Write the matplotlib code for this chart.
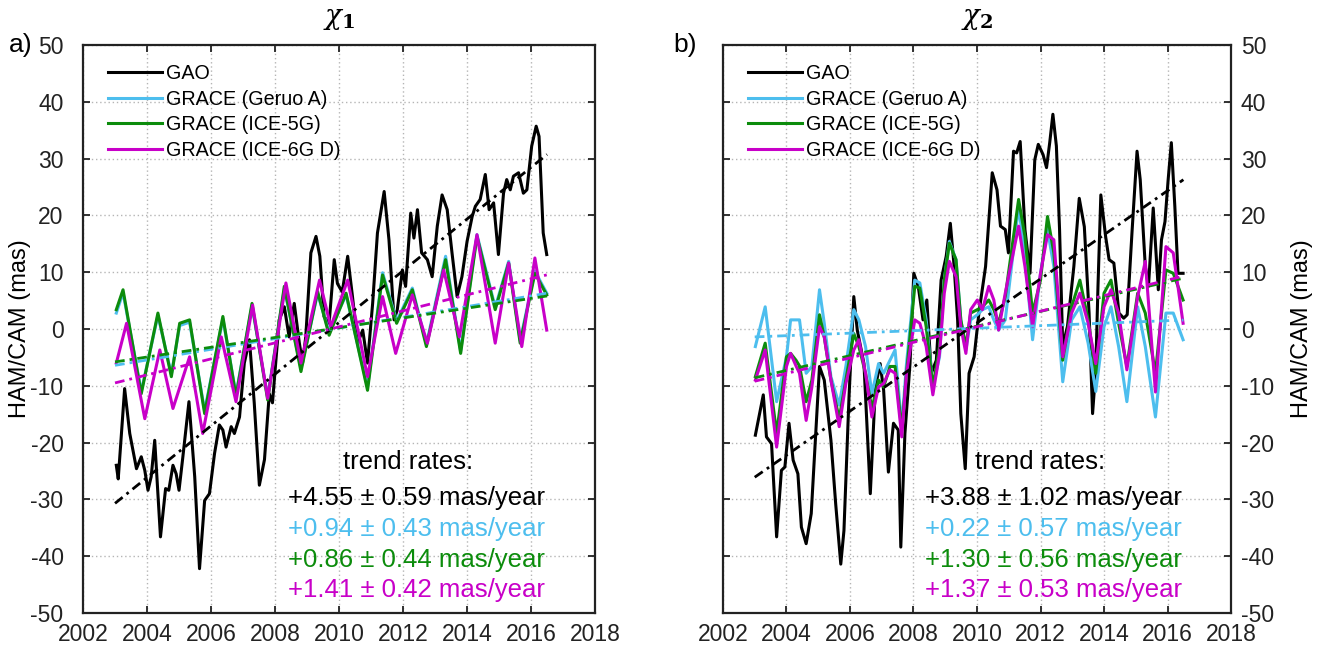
import numpy as np
import matplotlib
matplotlib.use("Agg")
import matplotlib.pyplot as plt

plt.rcParams['font.family'] = ['Liberation Sans', 'DejaVu Sans']
plt.rcParams['mathtext.fontset'] = 'dejavuserif'
plt.rcParams['axes.unicode_minus'] = False

# colours of the four series
C_GAO = '#000000'
C_GERUO = '#4dbeee'
C_ICE5 = '#0c8c0c'
C_ICE6 = '#c800c8'

labels = ['GAO', 'GRACE (Geruo A)', 'GRACE (ICE-5G)', 'GRACE (ICE-6G D)']

# ---------------- chi_1 ----------------
x1_gao_t = [2003.04, 2003.10, 2003.30, 2003.46, 2003.67, 2003.82, 2003.93, 2004.03, 2004.13, 2004.24,
            2004.42, 2004.58, 2004.68, 2004.81, 2004.91, 2005.00, 2005.12, 2005.31, 2005.49, 2005.64,
            2005.80, 2005.95, 2006.11, 2006.26, 2006.37, 2006.47, 2006.63, 2006.73, 2006.89, 2007.04,
            2007.20, 2007.35, 2007.51, 2007.67, 2007.82, 2007.92, 2008.13, 2008.29, 2008.44, 2008.60,
            2008.76, 2008.86, 2008.96, 2009.12, 2009.28, 2009.40, 2009.53, 2009.69, 2009.85, 2009.95,
            2010.10, 2010.27, 2010.42, 2010.58, 2010.74, 2010.89, 2011.05, 2011.20, 2011.41, 2011.56,
            2011.72, 2011.82, 2011.98, 2012.08, 2012.24, 2012.34, 2012.45, 2012.58, 2012.76, 2012.91,
            2013.07, 2013.22, 2013.38, 2013.53, 2013.69, 2013.84, 2014.00, 2014.16, 2014.26, 2014.41,
            2014.57, 2014.69, 2014.83, 2014.98, 2015.14, 2015.24, 2015.35, 2015.45, 2015.61, 2015.76,
            2015.87, 2016.02, 2016.16, 2016.25, 2016.38, 2016.49]
x1_gao_v = [-24.0, -26.4, -10.5, -18.4, -24.6, -22.5, -24.9, -28.4, -26.0, -19.6,
            -36.6, -28.1, -28.4, -24.0, -25.5, -28.4, -22.5, -12.8, -26.0, -42.2,
            -30.2, -29.0, -21.9, -16.9, -17.8, -20.8, -17.2, -18.4, -15.5, -6.0,
            -1.9, -13.0, -27.5, -23.0, -11.4, -13.0, 1.6, 3.9, -1.4, 4.5,
            -2.5, -6.0, -1.4, 13.4, 16.3, 12.8, 2.2, 1.0, 12.2, 8.0,
            6.5, 12.8, 5.7, -2.5, -0.2, -6.0, 4.5, 16.9, 24.2, 15.7,
            1.6, 3.4, 10.4, 7.5, 20.4, 16.0, 21.0, 13.4, 12.2, 9.2,
            18.1, 23.6, 21.0, 13.4, 5.7, 9.2, 15.4, 19.8, 21.6, 22.8,
            27.2, 21.0, 22.2, 13.1, 23.9, 26.3, 24.5, 26.9, 27.5, 23.9,
            24.5, 32.2, 35.7, 33.9, 16.9, 13.1]

x1_grace_t = [2003.04, 2003.25, 2003.82, 2004.34, 2004.76, 2005.02, 2005.33, 2005.80, 2006.37, 2006.78,
              2007.28, 2007.77, 2008.29, 2008.81, 2009.33, 2009.69, 2010.22, 2010.89, 2011.36, 2011.80,
              2012.29, 2012.73, 2013.33, 2013.80, 2014.31, 2014.88, 2015.30, 2015.66, 2016.12, 2016.49]
x1_geruo_v = [2.8, 6.4, -11.0, 2.4, -8.0, 0.6, 1.2, -14.4, 1.8, -11.5,
              4.1, -12.0, 7.1, -7.0, 6.2, -0.6, 6.0, -10.3, 9.9, 1.4,
              7.2, -2.7, 12.8, -3.9, 16.6, 3.8, 11.9, -2.1, 10.2, 6.3]
x1_ice5_v = [3.4, 6.9, -11.4, 2.8, -8.4, 1.0, 1.6, -14.9, 2.2, -11.9,
             4.5, -12.5, 7.5, -7.5, 6.6, -1.1, 6.3, -10.8, 9.5, 1.0,
             6.9, -3.1, 12.2, -4.3, 16.3, 3.4, 11.6, -2.5, 9.8, 6.0]
x1_ice6_t = [2003.04, 2003.36, 2003.93, 2004.40, 2004.81, 2005.33, 2005.74, 2006.32, 2006.78, 2007.30,
             2007.77, 2008.34, 2008.81, 2009.39, 2009.74, 2010.27, 2010.89, 2011.36, 2011.77, 2012.29,
             2012.76, 2013.27, 2013.76, 2014.31, 2014.88, 2015.30, 2015.71, 2016.12, 2016.49]
x1_ice6_v = [-6.0, 1.0, -15.8, -3.7, -14.0, -4.9, -18.4, -1.4, -12.8, 4.2,
             -12.2, 8.1, -6.0, 8.6, 0.4, 8.6, -8.4, 5.7, -4.3, 6.0,
             -2.5, 10.4, -1.4, 16.6, -2.5, 11.6, -3.1, 12.5, -0.2]

# trend rates (mas/year), their errors and the value of each trend line at its start
x1_rates = [4.55, 0.94, 0.86, 1.41]
x1_errs = [0.59, 0.43, 0.44, 0.42]
x1_trend_start = [-30.7, -6.4, -5.8, -9.5]

# ---------------- chi_2 ----------------
x2_gao_t = [2003.02, 2003.27, 2003.37, 2003.53, 2003.69, 2003.84, 2003.95, 2004.08, 2004.21, 2004.36,
            2004.47, 2004.62, 2004.78, 2005.04, 2005.19, 2005.40, 2005.55, 2005.71, 2005.81, 2005.97,
            2006.12, 2006.23, 2006.44, 2006.64, 2006.80, 2006.95, 2007.06, 2007.21, 2007.37, 2007.52,
            2007.60, 2007.73, 2007.89, 2008.01, 2008.15, 2008.30, 2008.42, 2008.56, 2008.72, 2008.87,
            2009.03, 2009.16, 2009.28, 2009.39, 2009.49, 2009.63, 2009.75, 2009.91, 2010.06, 2010.27,
            2010.48, 2010.63, 2010.74, 2010.89, 2010.99, 2011.15, 2011.25, 2011.36, 2011.51, 2011.67,
            2011.82, 2011.93, 2012.08, 2012.19, 2012.29, 2012.39, 2012.50, 2012.60, 2012.70, 2012.85,
            2013.05, 2013.22, 2013.38, 2013.53, 2013.64, 2013.74, 2013.81, 2013.90, 2014.05, 2014.16,
            2014.31, 2014.47, 2014.62, 2014.73, 2014.88, 2015.04, 2015.14, 2015.30, 2015.40, 2015.55,
            2015.71, 2015.81, 2015.92, 2016.02, 2016.12, 2016.23, 2016.33, 2016.49]
x2_gao_v = [-18.7, -11.6, -19.0, -20.2, -36.6, -24.9, -24.3, -16.6, -23.1, -25.5,
            -34.9, -37.8, -32.5, -6.6, -9.0, -19.6, -30.8, -41.4, -35.5, -11.9,
            5.7, -0.2, -6.1, -29.0, -10.2, -6.1, -10.8, -25.2, -16.6, -17.8,
            -38.4, -18.4, -6.1, 9.8, 7.5, 1.6, 5.1, -7.8, -5.5, 8.6,
            12.8, 18.6, 11.0, 1.6, -14.9, -24.6, -7.8, -4.9, 2.8, 11.0,
            27.5, 24.5, 18.1, 17.5, 13.4, 31.3, 31.0, 33.0, 17.5, 9.8,
            29.8, 32.5, 30.7, 28.4, 32.8, 37.8, 32.2, 17.5, -3.1, 0.5,
            11.0, 23.0, 18.0, 2.8, -14.9, -7.2, 7.5, 23.6, 16.3, 12.2,
            11.6, 2.8, 1.9, 2.5, 16.9, 31.3, 26.3, 11.0, 7.5, 21.3,
            6.9, 15.7, 18.9, 26.3, 32.8, 21.6, 9.8, 9.8]

x2_grace_t = [2003.02, 2003.33, 2003.69, 2004.00, 2004.13, 2004.30, 2004.41, 2004.62, 2004.80, 2005.04,
              2005.19, 2005.40, 2005.66, 2005.87, 2006.12, 2006.28, 2006.49, 2006.69, 2006.90, 2007.06,
              2007.26, 2007.42, 2007.63, 2007.78, 2008.04, 2008.20, 2008.40, 2008.61, 2008.82, 2008.97,
              2009.13, 2009.34, 2009.49, 2009.65, 2009.80, 2010.01, 2010.17, 2010.37, 2010.53, 2010.68,
              2010.89, 2011.31, 2011.51, 2011.75, 2012.00, 2012.22, 2012.42, 2012.70, 2012.98, 2013.24,
              2013.50, 2013.74, 2014.00, 2014.22, 2014.46, 2014.72, 2015.06, 2015.30, 2015.62, 2015.95,
              2016.18, 2016.49]
x2_geruo_v = [-3.1, 3.9, -12.8, -4.9, 1.6, 1.6, 1.6, -7.8, -6.6, 6.9,
              1.0, -8.4, -13.4, -6.6, 3.4, 1.6, -3.1, -11.4, -6.1, -7.8,
              -5.5, -3.7, -17.2, -6.1, 8.6, 8.1, 1.6, -10.2, -4.9, 8.6,
              15.4, 12.2, 1.6, -3.7, 1.6, 2.5, 3.4, 3.9, 1.6, -0.2,
              1.6, 21.6, 12.8, -1.9, 9.8, 17.5, 11.0, -9.3, 1.6, 3.9,
              -2.5, -11.0, 0.4, 3.9, -3.1, -12.8, 3.9, -3.1, -15.5, 2.8,
              2.8, -1.9]
x2_ice5_v = [-8.4, -2.5, -18.4, -4.9, -4.3, -5.5, -6.5, -12.8, -9.0, 2.5,
             -1.4, -9.0, -15.8, -9.0, -0.8, -3.1, -7.8, -14.0, -9.0, -10.2,
             -6.6, -6.6, -17.8, -7.8, 7.5, 7.2, 0.4, -10.2, -3.1, 8.6,
             15.1, 12.2, 1.6, -3.1, 2.8, 3.4, 3.9, 5.1, 3.4, 1.0,
             5.7, 22.8, 16.3, 2.8, 8.6, 19.8, 13.4, -5.5, 3.9, 8.6,
             1.6, -7.8, 6.3, 8.6, 1.0, -6.6, 6.3, 2.8, -7.8, 10.4,
             9.8, 5.1]
x2_ice6_v = [-9.0, -3.7, -20.8, -6.6, -4.3, -6.5, -7.8, -16.1, -10.2, 0.4,
             -1.4, -9.0, -17.2, -9.6, -3.7, -1.9, -7.8, -15.5, -10.2, -9.6,
             -7.2, -7.8, -19.0, -7.8, 1.6, 1.0, -3.1, -11.6, -4.3, 6.3,
             11.9, 9.2, 0.4, -4.3, 3.4, 5.1, 3.4, 7.5, 5.1, -0.2,
             6.3, 18.1, 11.0, 0.4, 9.8, 16.6, 15.7, -4.9, 2.8, 6.3,
             1.0, -6.1, 3.9, 6.9, 2.8, -7.2, 5.7, 11.9, -11.1, 14.5,
             13.4, 1.0]

x2_rates = [3.88, 0.22, 1.30, 1.37]
x2_errs = [1.02, 0.57, 0.56, 0.53]
x2_trend_start = [-26.1, -1.4, -8.6, -9.2]

trend_t0, trend_t1 = 2003.0, 2016.5

colors = [C_GAO, C_GERUO, C_ICE5, C_ICE6]

fig = plt.figure(figsize=(13.2, 6.47), dpi=100)
ax1 = fig.add_axes([0.0629, 0.0526, 0.3879, 0.8779])
ax2 = fig.add_axes([0.5477, 0.0526, 0.3849, 0.8779])


def draw_panel(ax, series, rates, errs, starts, title, text_x, rates_x, right=False):
    handles = []
    for (t, v), col, lab in zip(series, colors, labels):
        h, = ax.plot(t, v, color=col, lw=2.2, label=lab, solid_joinstyle='round')
        handles.append(h)
    tt = np.array([trend_t0, trend_t1])
    for r, s, col in zip(rates, starts, colors):
        ax.plot(tt, s + r * (tt - trend_t0), color=col, lw=2.0,
                linestyle=(0, (3.5, 1.8, 1.0, 1.8)))

    ax.set_xlim(2002, 2018)
    ax.set_ylim(-50, 50)
    ax.set_xticks(np.arange(2002, 2019, 2))
    ax.set_yticks(np.arange(-50, 51, 10))
    ax.grid(True, linestyle=(0, (1, 2)), color='#b5b5b5', lw=1.0)
    ax.tick_params(direction='in', top=True, right=True, left=True, length=5, width=1.3,
                   labelsize=16.5, colors='#222222')
    ax.tick_params(axis='x', pad=7)
    ax.set_ylabel('HAM/CAM (mas)', fontsize=17)
    if right:
        ax.yaxis.tick_right()
        ax.tick_params(left=True, labelleft=False, labelright=True)
        ax.tick_params(axis='y', pad=7)
        ax.yaxis.set_label_position('right')
        ax.yaxis.set_label_coords(1.118, 0.5)
    else:
        ax.tick_params(axis='y', pad=14)
        ax.yaxis.set_label_coords(-0.102, 0.5)
    for sp in ax.spines.values():
        sp.set_linewidth(1.6)
        sp.set_color('#222222')
    ax.set_title(title, fontsize=20, pad=15)

    ax.legend(handles=handles, loc='upper left', bbox_to_anchor=(0.033, 0.98), frameon=False,
              fontsize=14.2, handlelength=2.75, handletextpad=0.2, labelspacing=0.33,
              borderaxespad=0.0)

    ax.text(text_x, -23.4, 'trend rates:', fontsize=18.5, ha='center', va='center')
    ys = [-29.8, -35.2, -40.6, -46.0]
    for r, e, col, y in zip(rates, errs, colors, ys):
        ax.text(rates_x, y, '+%.2f \u00b1 %.2f mas/year' % (r, e), color=col,
                fontsize=18.5, ha='left', va='center')


draw_panel(ax1,
           [(x1_gao_t, x1_gao_v), (x1_grace_t, x1_geruo_v), (x1_grace_t, x1_ice5_v), (x1_ice6_t, x1_ice6_v)],
           x1_rates, x1_errs, x1_trend_start, r'$\chi_\mathbf{1}$', 2012.16, 2008.4)
draw_panel(ax2,
           [(x2_gao_t, x2_gao_v), (x2_grace_t, x2_geruo_v), (x2_grace_t, x2_ice5_v), (x2_grace_t, x2_ice6_v)],
           x2_rates, x2_errs, x2_trend_start, r'$\chi_\mathbf{2}$', 2011.98, 2008.36, right=True)

fig.text(0.007, 0.930, 'a)', fontsize=19, va='center')
fig.text(0.510, 0.930, 'b)', fontsize=19, va='center')

fig.savefig('out.png', dpi=100)
